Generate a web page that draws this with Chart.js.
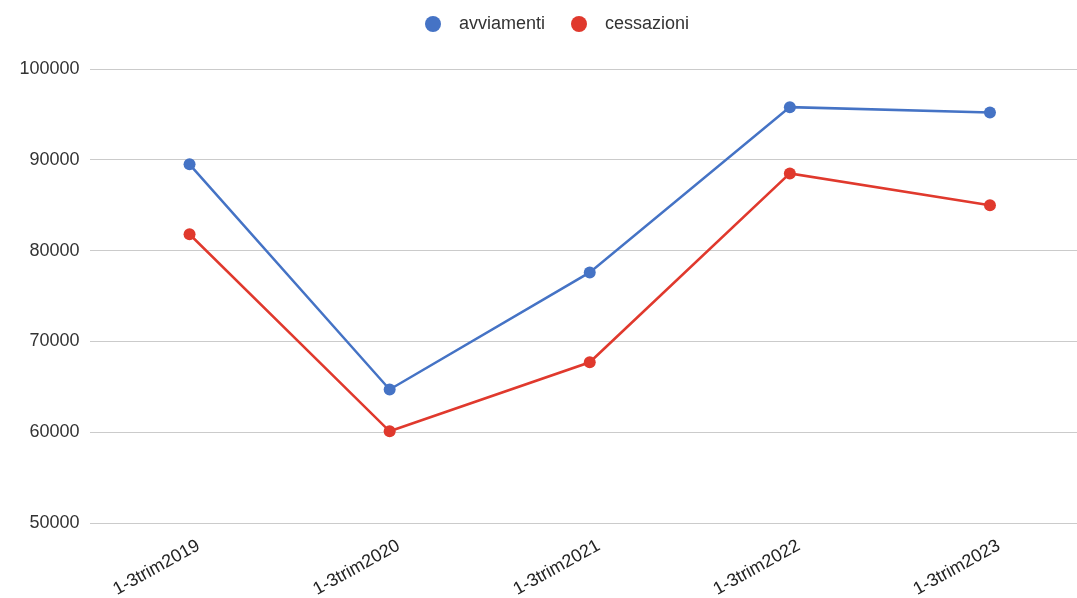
<!DOCTYPE html>
<html>
<head>
<meta charset="utf-8">
<script src="https://cdn.jsdelivr.net/npm/chart.js@4/dist/chart.umd.min.js"></script>
<style>
  html, body { margin: 0; padding: 0; background: #fff; }
  #frame { width: 1077px; height: 598px; overflow: hidden; position: relative; }
  #wrap { width: 1096px; height: 598px; position: relative; }
</style>
</head>
<body>
<div id="frame">
  <div id="wrap"><canvas id="trendChart"></canvas></div>
</div>
<script>
const periods = ['1-3trim2019', '1-3trim2020', '1-3trim2021', '1-3trim2022', '1-3trim2023']
const avviamenti = [89500, 64700, 77600, 95800, 95200]
const cessazioni = [81800, 60100, 67700, 88500, 85000]
const yTicks = [50000, 60000, 70000, 80000, 90000, 100000]

const BLUE = '#4573c5'
const RED = '#e0392d'
const FONT = 'Arial, "Liberation Sans", sans-serif'

// legend marker: dot sits left of the image centre, leaving a wider gap before the text
function legendDot(color) {
  const c = document.createElement('canvas')
  c.width = 36
  c.height = 18
  const g = c.getContext('2d')
  g.fillStyle = color
  g.beginPath()
  g.arc(10, 9, 8, 0, Math.PI * 2)
  g.fill()
  return c
}

// legend placement: extra room below the legend row, and nudge it a bit to the right
const legendPlacement = {
  id: 'legendPlacement',
  beforeLayout(chart) {
    const legend = chart.legend
    if (!legend || legend._gapPatched) return
    const fit = legend.fit
    legend.fit = function () {
      fit.call(this)
      this.height += 26
    }
    legend._gapPatched = true
  },
  afterLayout(chart) {
    if (chart.legend) chart.legend.left += 9
  }
}

const series = [
  { label: 'avviamenti', data: avviamenti, color: BLUE },
  { label: 'cessazioni', data: cessazioni, color: RED }
]

new Chart(document.getElementById('trendChart'), {
  type: 'line',
  data: {
    labels: periods,
    datasets: series.map(s => ({
      label: s.label,
      data: s.data,
      borderColor: s.color,
      backgroundColor: s.color,
      borderWidth: 2.5,
      pointRadius: 6,
      pointHoverRadius: 6,
      pointBorderWidth: 0,
      tension: 0,
      fill: false
    }))
  },
  plugins: [legendPlacement],
  options: {
    responsive: true,
    maintainAspectRatio: false,
    animation: false,
    layout: {
      padding: { left: 16, top: -18, right: 0, bottom: 0 }
    },
    scales: {
      x: {
        offset: true,
        grid: { display: false },
        border: { display: false },
        ticks: {
          color: '#222',
          font: { family: FONT, size: 18 },
          minRotation: 29,
          maxRotation: 29,
          padding: 4,
          labelOffset: 9
        },
        afterFit(scale) { scale.height = 75 }
      },
      y: {
        min: yTicks[0],
        max: yTicks[yTicks.length - 1],
        afterBuildTicks(scale) {
          scale.ticks = yTicks.map(v => ({ value: v }))
        },
        grid: { color: '#cbcbcb', lineWidth: 1, drawTicks: false },
        border: { display: false },
        ticks: {
          color: '#333',
          font: { family: FONT, size: 18 },
          padding: 10,
          callback: v => String(v)
        },
        afterFit(scale) { scale.width = 73.5 }
      }
    },
    plugins: {
      legend: {
        position: 'top',
        labels: {
          usePointStyle: true,
          boxWidth: 18,
          color: '#333',
          font: { family: FONT, size: 18 },
          padding: 33,
          generateLabels(chart) {
            const items = Chart.defaults.plugins.legend.labels.generateLabels(chart)
            items.forEach((item, i) => {
              item.pointStyle = legendDot(series[i].color)
            })
            return items
          }
        }
      },
      tooltip: { enabled: false }
    }
  }
})
</script>
</body>
</html>
